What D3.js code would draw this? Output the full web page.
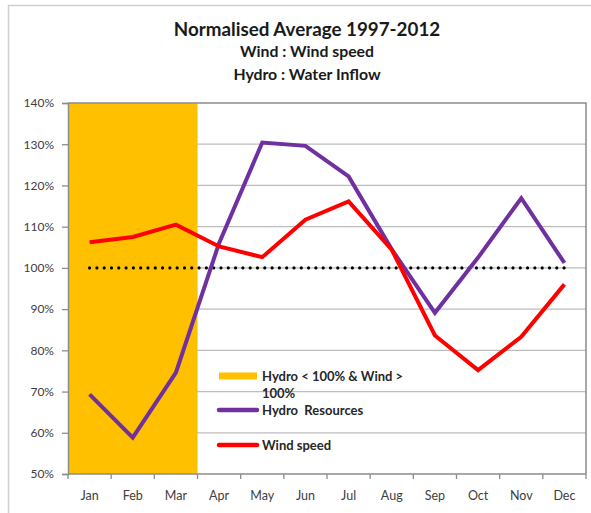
<!DOCTYPE html>
<html>
<head>
<meta charset="utf-8">
<script src="https://cdn.jsdelivr.net/npm/d3@7/dist/d3.min.js"></script>
<style>
  html, body { margin: 0; padding: 0; background: #fff; }
  svg { display: block; font-family: Lato, "Open Sans", sans-serif; }
  .pre { white-space: pre; }
</style>
</head>
<body>
<svg id="chart" width="591" height="513"></svg>
<script>
// Monthly categories and normalised series (share of 1997-2012 average)
const months = ["Jan","Feb","Mar","Apr","May","Jun","Jul","Aug","Sep","Oct","Nov","Dec"];
const hydro = [0.693, 0.588, 0.746, 1.06, 1.304, 1.296, 1.222, 1.045, 0.891, 1.025, 1.169, 1.012];
const wind  = [1.062, 1.075, 1.105, 1.052, 1.026, 1.117, 1.161, 1.044, 0.836, 0.752, 0.833, 0.960];
const reference = [1, 1, 1, 1, 1, 1, 1, 1, 1, 1, 1, 1];
// Months where hydro is below and wind above the average
const highlightMonths = ["Jan","Feb","Mar"];
const yTicks = [0.5, 0.6, 0.7, 0.8, 0.9, 1.0, 1.1, 1.2, 1.3, 1.4];
const titleLines = ["Normalised Average 1997-2012", "Wind : Wind speed", "Hydro : Water Inflow"];
const legendItems = [
  { key: "band", lines: ["Hydro < 100% & Wind >", "100%"], color: "#FFC000" },
  { key: "hydro", lines: ["Hydro  Resources"], color: "#7030A0" },
  { key: "wind", lines: ["Wind speed"], color: "#FF0000" }
];

const svg = d3.select("#chart");
const m = { left: 68, right: 586, top: 103, bottom: 474 };

const x = d3.scaleBand().domain(months).range([m.left, m.right]).paddingInner(0).paddingOuter(0);
const y = d3.scaleLinear().domain([0.5, 1.4]).range([m.bottom, m.top]);
const cx = d => x(d) + x.bandwidth() / 2;

// outer chart frame
svg.append("rect")
  .attr("x", 8.5).attr("y", 5.5).attr("width", 600).attr("height", 520)
  .attr("fill", "none").attr("stroke", "#d0d0d0").attr("stroke-width", 1.5);

// titles
const titleSizes = [18.8, 15.8, 15.8];
const titleY = [36, 57, 80];
titleLines.forEach((t, i) => {
  svg.append("text")
    .attr("x", 307).attr("y", titleY[i])
    .attr("text-anchor", "middle")
    .attr("font-size", titleSizes[i]).attr("font-weight", "bold")
    .attr("fill", "#1a1a1a")
    .text(t);
});

// horizontal gridlines
svg.append("g").selectAll("line")
  .data(yTicks.filter(v => v > 0.5 && v < 1.4))
  .join("line")
  .attr("x1", m.left).attr("x2", m.right)
  .attr("y1", d => y(d)).attr("y2", d => y(d))
  .attr("stroke", "#bdbdbd").attr("stroke-width", 1.3);

// highlighted months band
svg.append("rect")
  .attr("x", x(highlightMonths[0]))
  .attr("y", y(1.4))
  .attr("width", x(highlightMonths[highlightMonths.length - 1]) + x.bandwidth() - x(highlightMonths[0]))
  .attr("height", y(0.5) - y(1.4))
  .attr("fill", "#FFC000");

// plot frame (top/right)
svg.append("path")
  .attr("d", `M${m.left},${m.top}H${m.right}V${m.bottom}`)
  .attr("fill", "none").attr("stroke", "#8c8c8c").attr("stroke-width", 1.5);

// y axis
const yAxis = d3.axisLeft(y).tickValues(yTicks).tickFormat(d3.format(".0%")).tickSize(6).tickPadding(8);
const gy = svg.append("g").attr("transform", `translate(${m.left},0)`).call(yAxis);
gy.select(".domain").attr("stroke", "#8c8c8c").attr("stroke-width", 1.5);
gy.selectAll(".tick line").attr("stroke", "#8c8c8c").attr("stroke-width", 1.3);
gy.selectAll("text").attr("font-size", 12).attr("fill", "#404040").attr("font-family", "Lato, sans-serif");

// x axis: ticks on category boundaries
const gx = svg.append("g").attr("transform", `translate(0,${m.bottom})`);
gx.append("line").attr("x1", m.left).attr("x2", m.right).attr("stroke", "#8c8c8c").attr("stroke-width", 1.5);
gx.selectAll(".bt").data(months.concat(["end"])).join("line")
  .attr("class", "bt")
  .attr("x1", (d, i) => m.left + i * x.bandwidth())
  .attr("x2", (d, i) => m.left + i * x.bandwidth())
  .attr("y1", 0).attr("y2", 5)
  .attr("stroke", "#8c8c8c").attr("stroke-width", 1.3);
gx.selectAll("text").data(months).join("text")
  .attr("x", d => cx(d)).attr("y", 26)
  .attr("text-anchor", "middle")
  .attr("font-size", 12.5).attr("fill", "#404040")
  .text(d => d);

// 100% reference line (dotted)
const line = d3.line().x((d, i) => cx(months[i])).y(d => y(d));
svg.append("path")
  .datum(reference)
  .attr("d", line)
  .attr("fill", "none").attr("stroke", "#000")
  .attr("stroke-width", 3.2).attr("stroke-linecap", "round")
  .attr("stroke-dasharray", "0,7.3");

// series
svg.append("path").datum(hydro).attr("d", line)
  .attr("fill", "none").attr("stroke", "#7030A0").attr("stroke-width", 4)
  .attr("stroke-linejoin", "miter");
svg.append("path").datum(wind).attr("d", line)
  .attr("fill", "none").attr("stroke", "#FF0000").attr("stroke-width", 4)
  .attr("stroke-linejoin", "miter");

// legend
const legendX = 219, legendY = [376, 410, 445];
legendItems.forEach((it, i) => {
  const g = svg.append("g").attr("transform", `translate(${legendX},${legendY[i]})`);
  g.append("line").attr("x1", 0).attr("x2", 38).attr("y1", 0).attr("y2", 0)
    .attr("stroke", it.color).attr("stroke-width", it.key === "band" ? 7 : 4.5)
    .attr("stroke-linecap", it.key === "band" ? "butt" : "round");
  it.lines.forEach((t, j) => {
    g.append("text").attr("class", "pre").attr("x", 43).attr("y", 5 + j * 16.5)
      .attr("font-size", 13).attr("font-weight", "bold").attr("fill", "#262626")
      .text(t);
  });
});
</script>
</body>
</html>
